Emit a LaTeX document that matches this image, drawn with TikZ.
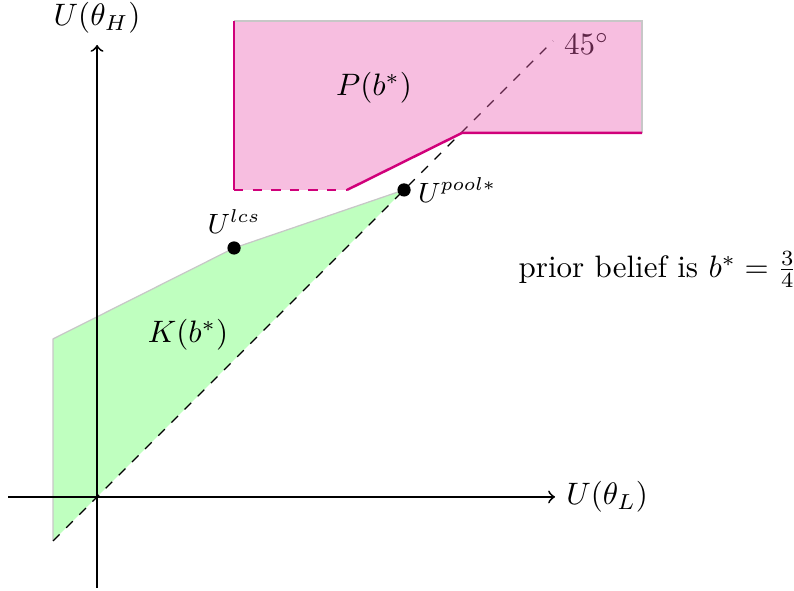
\documentclass[tikz,border=0pt]{standalone}
\usepackage{amsmath,amssymb}
\usepackage{xcolor}
\usetikzlibrary{positioning,calc}
\definecolor{pinkfill}{RGB}{235,93,178}
\definecolor{pinkedge}{RGB}{208,0,122}

\begin{document}
\begin{tikzpicture}[
    axis/.style={->, semithick},
    outline/.style={draw=black!22, thin},
    border/.style={pinkedge, thick},
    dot/.style={circle, fill=black, inner sep=0pt, minimum size=0.15cm},
    tag/.style={font=\small, inner sep=1pt}
]
    \useasboundingbox (-1.10,-1.066) rectangle (7.90,5.633);

    % Points
    \coordinate (o) at (0,0);
    \coordinate (xl) at (-1.009,0);
    \coordinate (xr) at (5.191,0);
    \coordinate (yb) at (0,-1.031);
    \coordinate (yt) at (0,5.123);
    \coordinate (k1) at (-0.499,-0.499);
    \coordinate (k2) at (-0.499,1.791);
    \coordinate (d45) at (5.169,5.169);
    \coordinate (pa) at (1.553,3.480);
    \coordinate (pb) at (2.834,3.480);
    \coordinate (pc) at (4.137,4.126);
    \coordinate (pd) at (6.178,4.126);
    \coordinate (pe) at (6.178,5.395);
    \coordinate (pf) at (1.553,5.395);

    % Region K
    \fill[green!25] (k1) -- (k2) -- (1.553,2.822) -- (3.480,3.480) -- cycle;
    \draw[outline] (k1) -- (k2) -- (1.553,2.822) -- (3.480,3.480);

    % Axes
    \draw[axis] (xl) -- (xr) node[right] (ul) {$U(\theta_L)$};
    \draw[axis] (yb) -- (yt) node[above] (uh) {$U(\theta_H)$};

    % 45 degree line
    \draw[dashed] (k1) -- (d45);
    \node[right=0pt of d45, yshift=-1pt] (deg) {$45^\circ$};

    % Region P
    \fill[pinkfill, fill opacity=0.4] (pa) -- (pb) -- (pc) -- (pd) -- (pe) -- (pf) -- cycle;
    \draw[outline] (pd) -- (pe) -- (pf);
    \draw[border] (pf) -- (pa);
    \draw[border, dashed] (pa) -- (pb);
    \draw[border] (pb) -- (pc) -- (pd);

    % Points on the frontier
    \node[dot] (lcs) at (1.553,2.822) {};
    \node[dot] (pool) at (3.480,3.480) {};
    \node[tag, above=1pt of lcs] (lcslab) {$U^{lcs}$};
    \node[tag, right=1pt of pool] (poollab) {$U^{pool*}$};

    % Labels
    \node (klab) at (1.031,1.836) {$K(b^*)$};
    \node (plab) at (3.140,4.636) {$P(b^*)$};
    \node[anchor=base west, inner sep=0pt] (prior) at (4.772,2.49) {prior belief is $b^*=\frac{3}{4}$};
\end{tikzpicture}
\end{document}
